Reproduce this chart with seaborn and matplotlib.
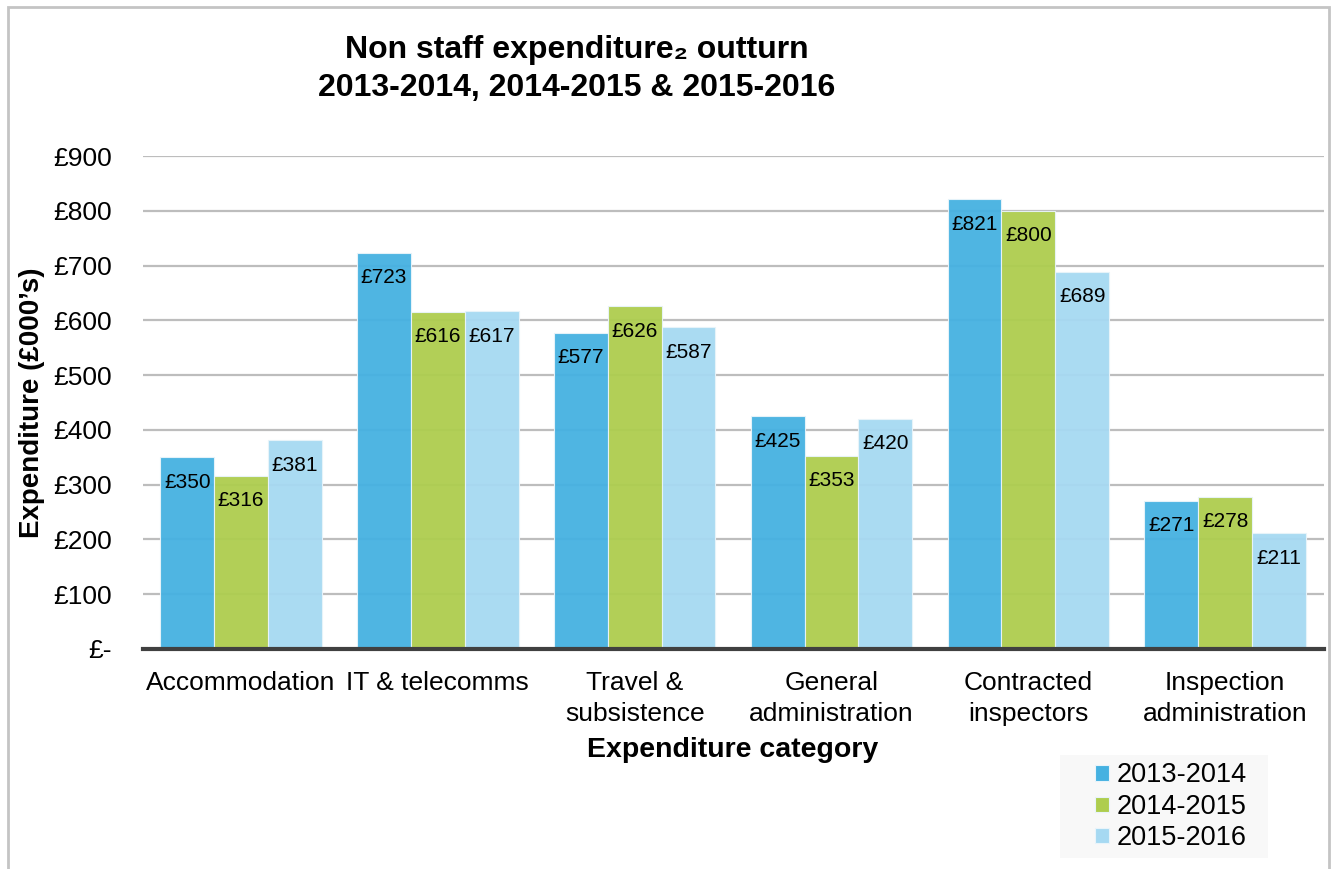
import matplotlib
matplotlib.use("Agg")
import matplotlib.pyplot as plt
from matplotlib.patches import Rectangle
import seaborn as sns
import pandas as pd

# Expenditure (£000's) by category and financial year
categories = ["Accommodation", "IT & telecomms", "Travel &\nsubsistence",
              "General\nadministration", "Contracted\ninspectors",
              "Inspection\nadministration"]
years = ["2013-2014", "2014-2015", "2015-2016"]
values_2013 = [350, 723, 577, 425, 821, 271]
values_2014 = [316, 616, 626, 353, 800, 278]
values_2015 = [381, 617, 587, 420, 689, 211]
ytick_values = [0, 100, 200, 300, 400, 500, 600, 700, 800, 900]
ytick_labels = ["£-", "£100", "£200", "£300", "£400", "£500", "£600",
                "£700", "£800", "£900"]

colors = ["#45b1e1", "#aecd4e", "#a6d9f2"]

rows = []
for yr, vals in zip(years, [values_2013, values_2014, values_2015]):
    for c, v in zip(categories, vals):
        rows.append({"category": c, "year": yr, "value": v})
df = pd.DataFrame(rows)

sns.set_theme(style="white")
plt.rcParams["font.family"] = ["Liberation Sans", "DejaVu Sans"]
plt.rcParams["text.color"] = "black"
plt.rcParams["axes.labelcolor"] = "black"
plt.rcParams["xtick.color"] = "black"
plt.rcParams["ytick.color"] = "black"

W, H = 1338, 869
fig = plt.figure(figsize=(W / 100, H / 100), dpi=100)
ax = fig.add_axes([142.6 / W, 1 - 649 / H, 1181 / W, (649 - 156) / H])

sns.barplot(data=df, x="category", y="value", hue="year", order=categories,
            hue_order=years, palette=colors, width=0.82, saturation=1,
            alpha=0.95, edgecolor="#e8f4fa", linewidth=0.8, ax=ax, zorder=3)

for cont in ax.containers:
    for bar in cont:
        h = bar.get_height()
        ax.annotate(f"£{h:.0f}", (bar.get_x() + bar.get_width() / 2, h),
                    xytext=(0, -18), textcoords="offset points",
                    ha="center", va="center", fontsize=15, color="black",
                    zorder=5)

ax.set_ylim(0, 900)
ax.set_xlim(-0.5, len(categories) - 0.5)
ax.set_yticks(ytick_values)
ax.set_yticklabels(ytick_labels, fontsize=19)
for lbl in ax.get_xticklabels():
    lbl.set_linespacing(1.35)
ax.tick_params(axis="x", labelsize=19, pad=16, length=0)
ax.tick_params(axis="y", pad=22, length=0)
ax.yaxis.grid(True, color="#bdbdbd", linewidth=1.6, zorder=0)
ax.set_axisbelow(True)
for s in ["top", "right", "left"]:
    ax.spines[s].set_visible(False)
ax.spines["bottom"].set_color("#404040")
ax.spines["bottom"].set_linewidth(3)
ax.spines["bottom"].set_zorder(6)

ax.set_xlabel("Expenditure category", fontsize=20.5, fontweight="bold",
              labelpad=8)
ax.set_ylabel("Expenditure (£000’s)", fontsize=20, fontweight="bold")
ax.yaxis.set_label_coords((45 - 142.6) / 1181, 0.5)

fig.text(577 / W, 1 - 69 / H,
         "Non staff expenditure₂ outturn\n2013-2014, 2014-2015 & 2015-2016",
         ha="center", va="center", fontsize=23, fontweight="bold",
         linespacing=1.32, family=["Liberation Sans", "DejaVu Sans"])

# Legend on a pale panel
fig.patches.append(Rectangle((1060 / W, 1 - 858 / H), 208 / W, 103 / H,
                             transform=fig.transFigure, facecolor="#f8f8f8",
                             edgecolor="none", zorder=-1))
handles, labels = ax.get_legend_handles_labels()
ax.get_legend().remove()
leg = fig.legend(handles, labels, loc="upper left",
                 bbox_to_anchor=(1090 / W, 1 - 757 / H),
                 bbox_transform=fig.transFigure, fontsize=19.5, frameon=False,
                 handlelength=0.5, handleheight=0.5, handletextpad=0.3,
                 labelspacing=0.2, borderpad=0.2, borderaxespad=0)
leg.set_zorder(10)
for h in leg.legend_handles:
    h.set_alpha(1)

# Outer chart border
fig.patches.append(Rectangle((7.5 / W, -0.05), (1329 - 7.5) / W,
                             1.05 - 7.5 / H, transform=fig.transFigure,
                             fill=False, edgecolor="#c4c4c4", linewidth=2))

fig.savefig("out.png", dpi=100)
